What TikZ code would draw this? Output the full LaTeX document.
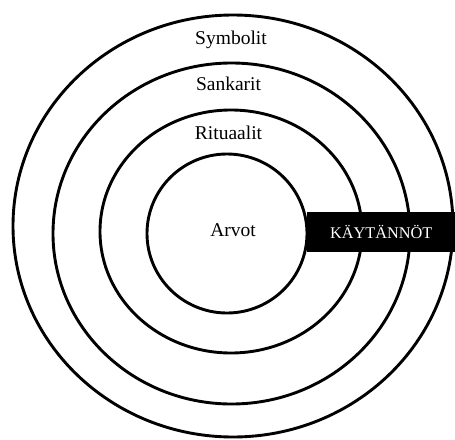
\documentclass[tikz,border=0pt]{standalone}
\usepackage{fontspec}
\setmainfont{Liberation Serif}
\usetikzlibrary{shapes.geometric, positioning}

\begin{document}
\begin{tikzpicture}[
  x=1pt, y=-1pt,
  ring/.style={draw, ellipse, line width=2.9pt, inner sep=0pt, outer sep=0pt},
  lbl/.style={anchor=base, inner sep=0pt, font=\fontsize{19.5}{23}\selectfont},
  bar/.style={fill=black, text=white, anchor=west, inner sep=0pt,
              minimum height=40pt, minimum width=148pt,
              font=\fontsize{16.3}{20}\selectfont},
  ]
\useasboundingbox (0,0) rectangle (455,439);

% rings, outer to inner
\node[ring, minimum width=440pt, minimum height=422pt] (symb) at (233,226) {};
\node[ring, minimum width=357pt, minimum height=341pt] (sank) at (231.5,233.5) {};
\node[ring, minimum width=262pt, minimum height=243pt] (rit) at (231,231.5) {};
\node[ring, minimum width=160pt, minimum height=159pt] (arv) at (227,233.5) {};

% labels
\node[lbl] (tsymb) at (231,44) {Symbolit};
\node[lbl] (tsank) at (228.5,90.5) {Sankarit};
\node[lbl] (trit) at (228.5,139) {Rituaalit};
\node[lbl] (tarv) at (233,236) {Arvot};

% practices bar
\node[bar] (kay) at (arv.east |- 0,232) {KÄYTÄNNÖT};
\end{tikzpicture}
\end{document}
